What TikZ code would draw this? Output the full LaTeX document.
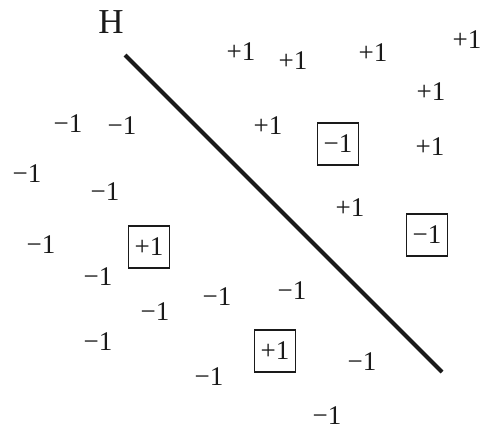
\documentclass[tikz,border=0pt]{standalone}
\usepackage{fontspec}
\setmainfont{Liberation Serif}
\usepackage{tikz}
\usetikzlibrary{positioning}
\definecolor{svInk}{HTML}{1A1A1A}
\tikzset{
  svlab/.style={text=svInk, inner sep=0pt, font=\fontsize{13.5}{15}\selectfont},
  svsupp/.style={svlab, draw=svInk, line width=0.6pt,
    minimum width=20.5pt, minimum height=21pt},
  svplane/.style={draw=svInk, line width=2pt},
}

\begin{document}
\begin{tikzpicture}[x=0.5pt, y=-0.5pt]
  \useasboundingbox (0,0) rectangle (480,430);

  % --- Separating hyperplane ---------------------------------------------
  \coordinate (hstart) at (125,55);
  \coordinate (hend)   at (442,372);
  \draw[svplane] (hstart) -- (hend);
  \node[svlab, font=\fontsize{17.5}{19}\selectfont] (hname) at (111,22) {H};

  % --- Positive side (upper right) ---------------------------------------
  \node[svlab] (p1) at (241,52)  {+1};
  \node[svlab] (p2) at (293,61)  {+1};
  \node[svlab] (p3) at (373,53)  {+1};
  \node[svlab] (p4) at (467,40)  {+1};
  \node[svlab] (p5) at (431,92)  {+1};
  \node[svlab] (p6) at (268,126) {+1};
  \node[svlab] (p7) at (430,147) {+1};
  \node[svlab] (p8) at (350,208) {+1};
  \node[svsupp] (pm1) at (338,144) {−1};   % misclassified
  \node[svsupp] (pm2) at (427,235) {−1};

  % --- Negative side (lower left) ----------------------------------------
  \node[svlab] (n1)  at (68,124)  {−1};
  \node[svlab] (n2)  at (122,126) {−1};
  \node[svlab] (n3)  at (27,174)  {−1};
  \node[svlab] (n4)  at (105,192) {−1};
  \node[svlab] (n5)  at (41,245)  {−1};
  \node[svlab] (n6)  at (98,277)  {−1};
  \node[svlab] (n7)  at (155,312) {−1};
  \node[svlab] (n8)  at (217,297) {−1};
  \node[svlab] (n9)  at (292,291) {−1};
  \node[svlab] (n10) at (98,342)  {−1};
  \node[svlab] (n11) at (209,377) {−1};
  \node[svlab] (n12) at (362,362) {−1};
  \node[svlab] (n13) at (327,416) {−1};
  \node[svsupp] (nm1) at (149,247) {+1};   % misclassified
  \node[svsupp] (nm2) at (275,351) {+1};

\end{tikzpicture}
\end{document}
